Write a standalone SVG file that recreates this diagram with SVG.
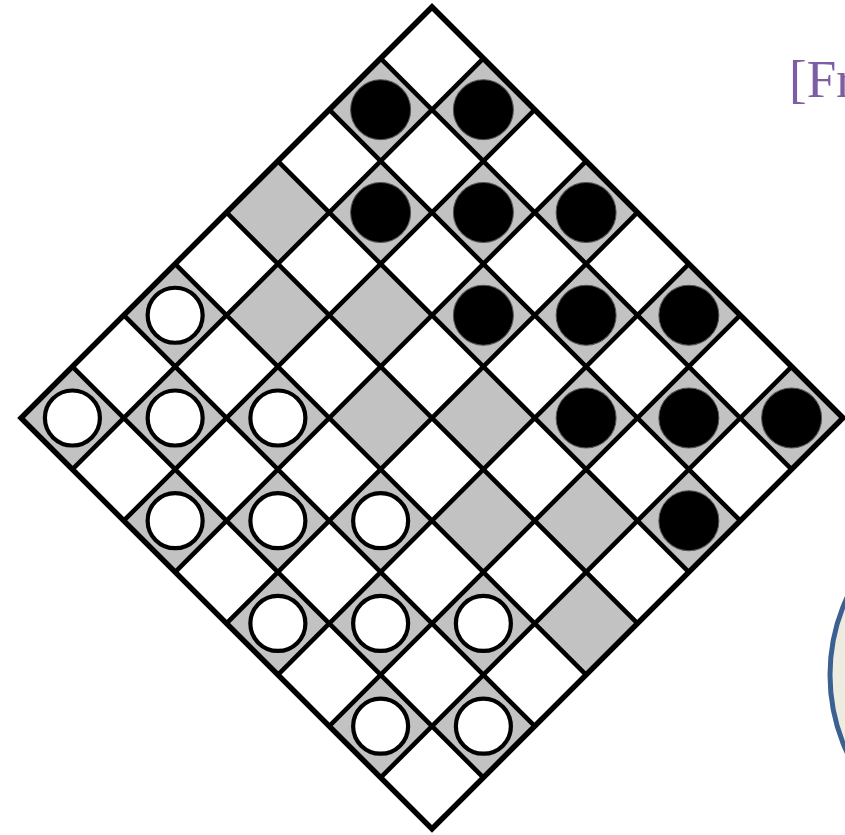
<svg xmlns="http://www.w3.org/2000/svg" width="845" height="835" viewBox="0 0 845 835">
<defs>
<style>
.lt{fill:#ffffff}
.dk{fill:#c2c2c2}
.grid{stroke:#000;stroke-width:4.6;fill:none}
.edge{stroke:#000;stroke-width:5.5;fill:none;stroke-linejoin:miter}
.bp{fill:#000;stroke:#555;stroke-width:1}
.wp{fill:#fff;stroke:#000;stroke-width:4.2}
.cap{font-family:"Liberation Serif","Times New Roman",serif;font-size:53px;fill:#7d5ea5}
</style>
</defs>
<rect width="845" height="835" fill="#fff"/>
<g id="bubble">
<circle cx="1015" cy="675" r="185" fill="#eeebe0" stroke="#3b6193" stroke-width="5"/>
</g>
<text class="cap" x="789" y="97">[Fr</text>
<g id="board" transform="translate(432,7) rotate(45)">
<g id="squares">
<rect class="lt" x="0" y="0" width="581.2" height="581.2"/>
<rect class="dk" x="72.65" y="0" width="72.65" height="72.65"/>
<rect class="dk" x="217.95" y="0" width="72.65" height="72.65"/>
<rect class="dk" x="363.25" y="0" width="72.65" height="72.65"/>
<rect class="dk" x="508.55" y="0" width="72.65" height="72.65"/>
<rect class="dk" x="0" y="72.65" width="72.65" height="72.65"/>
<rect class="dk" x="145.3" y="72.65" width="72.65" height="72.65"/>
<rect class="dk" x="290.6" y="72.65" width="72.65" height="72.65"/>
<rect class="dk" x="435.9" y="72.65" width="72.65" height="72.65"/>
<rect class="dk" x="72.65" y="145.3" width="72.65" height="72.65"/>
<rect class="dk" x="217.95" y="145.3" width="72.65" height="72.65"/>
<rect class="dk" x="363.25" y="145.3" width="72.65" height="72.65"/>
<rect class="dk" x="508.55" y="145.3" width="72.65" height="72.65"/>
<rect class="dk" x="0" y="217.95" width="72.65" height="72.65"/>
<rect class="dk" x="145.3" y="217.95" width="72.65" height="72.65"/>
<rect class="dk" x="290.6" y="217.95" width="72.65" height="72.65"/>
<rect class="dk" x="435.9" y="217.95" width="72.65" height="72.65"/>
<rect class="dk" x="72.65" y="290.6" width="72.65" height="72.65"/>
<rect class="dk" x="217.95" y="290.6" width="72.65" height="72.65"/>
<rect class="dk" x="363.25" y="290.6" width="72.65" height="72.65"/>
<rect class="dk" x="508.55" y="290.6" width="72.65" height="72.65"/>
<rect class="dk" x="0" y="363.25" width="72.65" height="72.65"/>
<rect class="dk" x="145.3" y="363.25" width="72.65" height="72.65"/>
<rect class="dk" x="290.6" y="363.25" width="72.65" height="72.65"/>
<rect class="dk" x="435.9" y="363.25" width="72.65" height="72.65"/>
<rect class="dk" x="72.65" y="435.9" width="72.65" height="72.65"/>
<rect class="dk" x="217.95" y="435.9" width="72.65" height="72.65"/>
<rect class="dk" x="363.25" y="435.9" width="72.65" height="72.65"/>
<rect class="dk" x="508.55" y="435.9" width="72.65" height="72.65"/>
<rect class="dk" x="0" y="508.55" width="72.65" height="72.65"/>
<rect class="dk" x="145.3" y="508.55" width="72.65" height="72.65"/>
<rect class="dk" x="290.6" y="508.55" width="72.65" height="72.65"/>
<rect class="dk" x="435.9" y="508.55" width="72.65" height="72.65"/>
</g>
<g id="gridlines" class="grid">
<path d="M72.65 0V581.2M145.3 0V581.2M217.95 0V581.2M290.6 0V581.2M363.25 0V581.2M435.9 0V581.2M508.55 0V581.2M0 72.65H581.2M0 145.3H581.2M0 217.95H581.2M0 290.6H581.2M0 363.25H581.2M0 435.9H581.2M0 508.55H581.2"/>
</g>
<rect class="edge" x="0" y="0" width="581.2" height="581.2"/>
<g id="black-pieces" class="bp">
<circle cx="108.98" cy="36.33" r="30"/>
<circle cx="254.28" cy="36.33" r="30"/>
<circle cx="399.58" cy="36.33" r="30"/>
<circle cx="544.88" cy="36.33" r="30"/>
<circle cx="36.33" cy="108.98" r="30"/>
<circle cx="181.63" cy="108.98" r="30"/>
<circle cx="326.93" cy="108.98" r="30"/>
<circle cx="472.23" cy="108.98" r="30"/>
<circle cx="108.98" cy="181.63" r="30"/>
<circle cx="254.28" cy="181.63" r="30"/>
<circle cx="399.58" cy="181.63" r="30"/>
<circle cx="544.88" cy="181.63" r="30"/>
</g>
<g id="white-pieces" class="wp">
<circle cx="36.33" cy="399.58" r="27.5"/>
<circle cx="181.63" cy="399.58" r="27.5"/>
<circle cx="326.93" cy="399.58" r="27.5"/>
<circle cx="472.23" cy="399.58" r="27.5"/>
<circle cx="108.98" cy="472.23" r="27.5"/>
<circle cx="254.28" cy="472.23" r="27.5"/>
<circle cx="399.58" cy="472.23" r="27.5"/>
<circle cx="544.88" cy="472.23" r="27.5"/>
<circle cx="36.33" cy="544.88" r="27.5"/>
<circle cx="181.63" cy="544.88" r="27.5"/>
<circle cx="326.93" cy="544.88" r="27.5"/>
<circle cx="472.23" cy="544.88" r="27.5"/>
</g>
</g>
</svg>
